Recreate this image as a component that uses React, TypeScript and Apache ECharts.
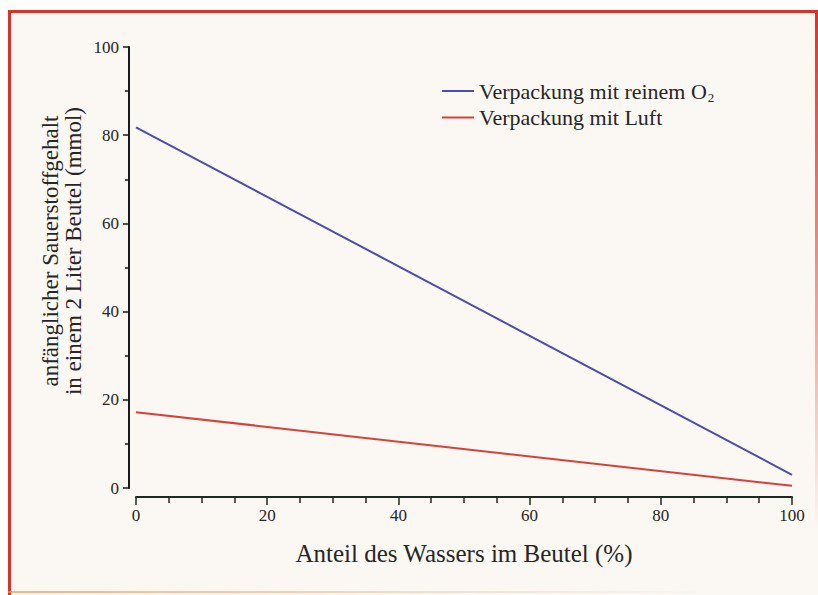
import React, { useEffect, useRef } from "react";
import * as echarts from "echarts";

const waterShare = [0, 100];
const pureO2 = [81.8, 3.0];
const air = [17.2, 0.5];
const seriesNames = ["Verpackung mit reinem O2", "Verpackung mit Luft"];
const xTitle = "Anteil des Wassers im Beutel (%)";
const yTitle1 = "anfänglicher Sauerstoffgehalt";
const yTitle2 = "in einem 2 Liter Beutel (mmol)";

const FONT = "Liberation Serif";
const TXT = "#262626";

export default function App() {
  const ref = useRef<HTMLDivElement>(null);
  useEffect(() => {
    if (!ref.current) return;
    const chart = echarts.init(ref.current, null, { renderer: "svg" });
    const toPairs = (ys: number[]) => waterShare.map((x, i) => [x, ys[i]]);
    chart.setOption({
      animation: false,
      backgroundColor: "#fbf7f3",
      textStyle: { fontFamily: FONT },
      grid: { left: 136, right: 26, top: 47, bottom: 107 },
      legend: {
        orient: "vertical",
        left: 437,
        top: 75,
        itemWidth: 32,
        itemHeight: 2,
        itemGap: 3,
        icon: "rect",
        data: seriesNames,
        formatter: (name: string) =>
          name.endsWith("O2")
            ? "{a|Verpackung mit reinem O}{s|2}"
            : "{a|" + name + "}",
        textStyle: {
          color: TXT,
          fontFamily: FONT,
          fontSize: 22,
          rich: {
            a: { fontFamily: FONT, fontSize: 22, color: TXT },
            s: { fontFamily: FONT, fontSize: 13, color: TXT, padding: [12, 0, 0, 1] },
          },
        },
      },
      xAxis: {
        type: "value",
        min: 0,
        max: 100,
        interval: 20,
        offset: 9,
        name: xTitle,
        nameLocation: "middle",
        nameGap: 44,
        nameTextStyle: { fontFamily: FONT, fontSize: 25, color: TXT },
        axisLine: { show: true, onZero: false, lineStyle: { color: "#1e2a22", width: 2 } },
        axisTick: { show: true, length: 8, inside: false, lineStyle: { color: "#1e2a22", width: 1.5 } },
        minorTick: { show: true, splitNumber: 4, length: 6, lineStyle: { color: "#1e2a22", width: 1.5 } },
        axisLabel: { fontFamily: FONT, fontSize: 17, color: TXT, margin: 10 },
        splitLine: { show: false },
      },
      yAxis: {
        type: "value",
        min: 0,
        max: 100,
        interval: 20,
        offset: 7,
        axisLine: { show: true, onZero: false, lineStyle: { color: "#1a1a1a", width: 2 } },
        axisTick: { show: true, length: 6, lineStyle: { color: "#1a1a1a", width: 1.5 } },
        minorTick: { show: true, splitNumber: 2, length: 4, lineStyle: { color: "#1a1a1a", width: 1.5 } },
        axisLabel: { fontFamily: FONT, fontSize: 17, color: TXT, margin: 10 },
        splitLine: { show: false },
      },
      series: [
        {
          name: seriesNames[0],
          type: "line",
          data: toPairs(pureO2),
          showSymbol: false,
          lineStyle: { color: "#4c4cae", width: 2 },
          itemStyle: { color: "#4c4cae" },
        },
        {
          name: seriesNames[1],
          type: "line",
          data: toPairs(air),
          showSymbol: false,
          lineStyle: { color: "#d8413a", width: 2 },
          itemStyle: { color: "#d8413a" },
        },
      ],
      graphic: [
        { type: "rect", shape: { x: 0, y: 0, width: 818, height: 10 }, style: { fill: "#ffffff" }, silent: true },
        { type: "rect", shape: { x: 0, y: 0, width: 8, height: 595 }, style: { fill: "#ffffff" }, silent: true },
        { type: "rect", shape: { x: 8, y: 10, width: 810, height: 3 }, style: { fill: "#d8322c" }, silent: true },
        { type: "rect", shape: { x: 8, y: 10, width: 3, height: 585 }, style: { fill: "#d8322c" }, silent: true },
        {
          type: "rect",
          shape: { x: 815, y: 10, width: 3, height: 520 },
          style: {
            fill: new echarts.graphic.LinearGradient(0, 0, 0, 1, [
              { offset: 0, color: "#d8322c" },
              { offset: 1, color: "rgba(216,50,44,0)" },
            ]),
          },
          silent: true,
        },
        {
          type: "rect",
          shape: { x: 8, y: 591, width: 700, height: 2 },
          style: {
            fill: new echarts.graphic.LinearGradient(0, 0, 1, 0, [
              { offset: 0, color: "rgba(240,150,90,0.7)" },
              { offset: 1, color: "rgba(240,150,90,0)" },
            ]),
          },
          silent: true,
        },
        {
          type: "text",
          x: 50,
          y: 251,
          rotation: Math.PI / 2,
          style: {
            text: yTitle1,
            fontFamily: FONT,
            fontSize: 23,
            fill: TXT,
            align: "center",
            verticalAlign: "middle",
          },
          silent: true,
        },
        {
          type: "text",
          x: 73,
          y: 251,
          rotation: Math.PI / 2,
          style: {
            text: yTitle2,
            fontFamily: FONT,
            fontSize: 23,
            fill: TXT,
            align: "center",
            verticalAlign: "middle",
          },
          silent: true,
        },
      ],
    });
    return () => chart.dispose();
  }, []);
  return (
    <div
      ref={ref}
      style={{ position: "fixed", left: 0, top: 0, width: 818, height: 595 }}
    />
  );
}
